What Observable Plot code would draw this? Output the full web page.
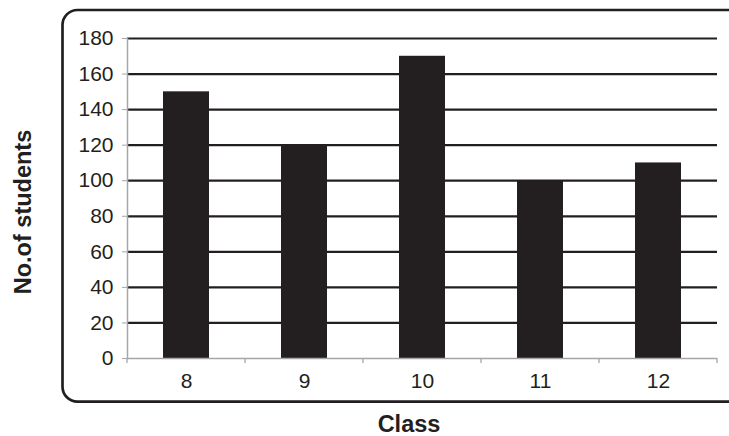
<!DOCTYPE html>
<html><head><meta charset="utf-8">
<script src="https://cdn.jsdelivr.net/npm/d3@7"></script>
<script src="https://cdn.jsdelivr.net/npm/@observablehq/plot@0.6"></script>
<style>body{margin:0;background:#fff}</style>
</head><body><div id="chart"></div>
<script>
const classes = ["8", "9", "10", "11", "12"];
const students = [150, 120, 170, 100, 110];
const yTicks = [0, 20, 40, 60, 80, 100, 120, 140, 160, 180];
const xTitle = "Class";
const yTitle = "No.of students";

const data = classes.map((c, i) => ({cls: c, n: students[i]}));
const ink = "#231f20";
const grey = "#a6a6a6";
const svgNS = "http://www.w3.org/2000/svg";
function el(name, attrs, text) {
  const e = document.createElementNS(svgNS, name);
  for (const k in attrs) e.setAttribute(k, attrs[k]);
  if (text != null) e.textContent = text;
  return e;
}
const val = (v) => (typeof v === "function" ? v() : v);

const border = (index, scales, values, dim) => {
  const g = el("g", {});
  g.appendChild(el("rect", {x: 62.5, y: 10, width: dim.width, height: 391.7, rx: 15, ry: 15,
    fill: "none", stroke: ink, "stroke-width": 2.7}));
  return g;
};

const bandTicks = (index, scales, values, dim) => {
  const x = scales.x;
  const bw = val(x.bandwidth);
  let step = val(x.step);
  if (!step) step = (dim.width - dim.marginLeft - dim.marginRight) / classes.length;
  const g = el("g", {stroke: grey, "stroke-width": 1.3});
  const y0 = dim.height - dim.marginBottom;
  const xs = classes.map(c => x(c) + bw / 2 - step / 2);
  xs.push(xs[xs.length - 1] + step);
  for (const xv of xs) g.appendChild(el("line", {x1: xv, x2: xv, y1: y0, y2: y0 + 5}));
  return g;
};

const titles = (index, scales, values, dim) => {
  const g = el("g", {fill: ink, "font-weight": "bold", "font-size": 23.5,
    "font-family": "'Liberation Sans', Arial, sans-serif"});
  g.appendChild(el("text", {x: 409, y: 432, "text-anchor": "middle"}, xTitle));
  g.appendChild(el("text", {transform: "translate(31,212) rotate(-90)", "text-anchor": "middle"}, yTitle));
  return g;
};

const plot = Plot.plot({
  width: 729, height: 436,
  marginLeft: 127, marginRight: 12, marginTop: 38, marginBottom: 78,
  style: {fontFamily: "'Liberation Sans', Arial, sans-serif", fontSize: "21px", color: ink, background: "#fff", overflow: "visible"},
  x: {domain: classes, paddingInner: 0.61, paddingOuter: 0.305, label: null},
  y: {domain: [0, 180], label: null},
  marks: [
    border,
    Plot.ruleY(yTicks.filter(d => d > 0), {stroke: ink, strokeWidth: 2.2}),
    Plot.barY(data, {x: "cls", y: "n", fill: ink}),
    Plot.ruleY([0], {stroke: grey, strokeWidth: 1.5}),
    Plot.frame({anchor: "left", stroke: grey, strokeWidth: 1.5}),
    Plot.axisY({ticks: yTicks, tickSize: 5, tickPadding: 9, stroke: grey, fill: ink, label: null, fontSize: 21, tickFormat: d => String(d)}),
    Plot.axisX({tickSize: 0, tickPadding: 15, fill: ink, label: null, fontSize: 21}),
    bandTicks,
    titles
  ]
});
document.getElementById("chart").appendChild(plot);
</script>
</body></html>
